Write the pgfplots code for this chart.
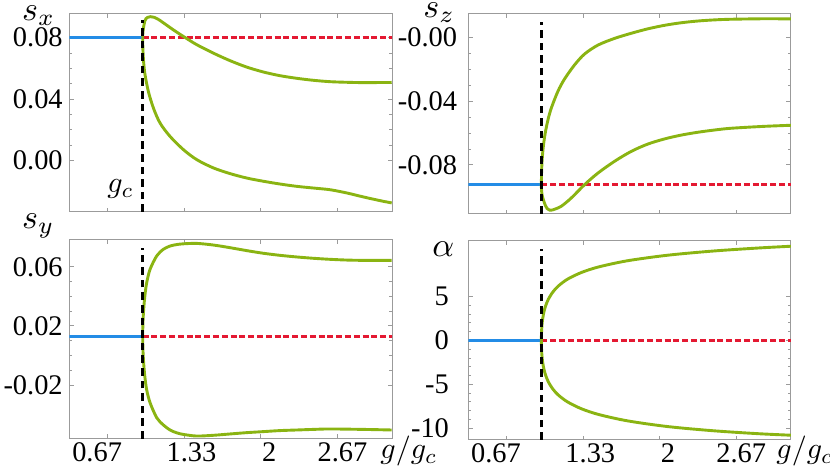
\documentclass[border=0pt]{standalone}
\usepackage{fontspec}
\setmainfont{Liberation Serif}
\usepackage{graphicx}
\usepackage{pgfplots}
\pgfplotsset{compat=1.18}
\definecolor{framegray}{RGB}{155,155,155}
\definecolor{cblue}{RGB}{35,140,230}
\definecolor{cred}{RGB}{228,25,50}
\definecolor{cgreen}{RGB}{138,180,18}
\newcommand{\ticksize}{\fontsize{14.2}{16}\selectfont}
\newcommand{\biglab}[1]{\scalebox{1.7}{$#1$}}
\newcommand{\glab}[1]{\scalebox{1.5}{$#1$}}
\pgfplotsset{
 panel/.style={
  scale only axis, width=161.25pt, height=99.35pt,
  xmin=0.3333, xmax=3.1426,
  axis line style={draw=framegray, line width=0.5pt},
  tick style={draw=framegray, line width=0.5pt},
  major tick length=2.2pt, minor tick length=1.3pt,
  xtick={0.6667,1.3333,2,2.6667}, minor x tick num=3,
  xticklabels={,,,},
  scaled y ticks=false, scaled x ticks=false,
  tick label style={font=\ticksize, inner sep=0pt},
  yticklabel style={anchor=east, xshift=-3.2pt},
  clip=true,
 },
 bottompanel/.style={
  extra x ticks={0.574,1.396,2.073,2.711},
  extra x tick labels={0.67,1.33,2,2.67},
  extra x tick style={major tick length=0pt, xticklabel style={anchor=north, yshift=-1.75pt}},
 },
 blueline/.style={cblue, line width=1.3pt},
 redline/.style={cred, line width=1.2pt, dash pattern=on 3pt off 1.4pt},
 greenline/.style={cgreen, line width=1.45pt, smooth, tension=0.5},
 gcline/.style={black, line width=1.5pt, dash pattern=on 3.8pt off 2.5pt},
}
\begin{document}
\begin{tikzpicture}
\useasboundingbox (0,0) rectangle (415pt,235pt);
% ---------- s_x ----------
\begin{axis}[panel, at={(34.75pt,129pt)}, anchor=south west,
  ymin=-0.0334, ymax=0.0959, ytick={0,0.04,0.08}, yticklabels={0.00,0.04,0.08}, minor y tick num=3]
\addplot[blueline] coordinates {(0.3333,0.0802) (0.97,0.0802)};
\addplot[redline] coordinates {(0.97,0.0802) (3.15,0.0802)};
\addplot[greenline] coordinates {(0.971,0.0802) (0.972,0.0827) (0.974,0.0844) (0.978,0.0865) (0.983,0.0887) (0.99,0.0910) (1.00,0.0925) (1.015,0.0933) (1.04,0.0937) (1.07,0.0933) (1.11,0.0918) (1.151,0.0897) (1.25,0.0845) (1.339,0.0802) (1.441,0.0755) (1.586,0.0700) (1.731,0.0651) (1.877,0.0609) (2.022,0.0577) (2.167,0.0553) (2.312,0.0536) (2.457,0.0523) (2.602,0.0514) (2.748,0.0510) (2.893,0.0508) (3.14,0.0509)};
\addplot[greenline] coordinates {(0.971,0.0802) (0.9715,0.0760) (0.973,0.0720) (0.9765,0.0668) (0.981,0.0625) (0.991,0.0560) (1.020,0.0451) (1.064,0.0343) (1.122,0.0245) (1.209,0.0158) (1.325,0.0072) (1.441,0.0007) (1.586,-0.0047) (1.731,-0.0084) (1.877,-0.0113) (2.022,-0.0134) (2.167,-0.0152) (2.312,-0.0167) (2.457,-0.0178) (2.602,-0.0189) (2.748,-0.0210) (2.893,-0.0236) (3.038,-0.0260) (3.14,-0.0275)};
\addplot[gcline] coordinates {(0.97,-0.0334) (0.97,0.0915)};
\end{axis}
% ---------- s_z ----------
\begin{axis}[panel, at={(234.15pt,128pt)}, anchor=south west, height=100pt,
  yticklabel style={xshift=-2.2pt},
  ymin=-0.1108, ymax=0.0149, ytick={-0.08,-0.04,0}, yticklabels={-0.08,-0.04,-0.00}, minor y tick num=3]
\addplot[blueline] coordinates {(0.3333,-0.0923) (0.97,-0.0923)};
\addplot[redline] coordinates {(0.97,-0.0923) (3.15,-0.0923)};
\addplot[greenline] coordinates {(0.970,-0.0923) (0.971,-0.0860) (0.974,-0.0800) (0.980,-0.0734) (0.990,-0.0664) (1.005,-0.0593) (1.028,-0.0514) (1.057,-0.0441) (1.115,-0.0335) (1.173,-0.0258) (1.260,-0.0170) (1.347,-0.0102) (1.464,-0.0046) (1.609,-0.0004) (1.754,0.0028) (1.899,0.0056) (2.044,0.0078) (2.189,0.0094) (2.335,0.0105) (2.480,0.0112) (2.625,0.0116) (2.915,0.0119) (3.16,0.0118)};
\addplot[greenline] coordinates {(0.970,-0.0923) (0.9705,-0.0945) (0.972,-0.0965) (0.976,-0.0988) (0.987,-0.1018) (1.005,-0.1055) (1.020,-0.1074) (1.042,-0.1084) (1.065,-0.1083) (1.086,-0.1078) (1.144,-0.1059) (1.231,-0.1007) (1.347,-0.0923) (1.464,-0.0850) (1.609,-0.0776) (1.754,-0.0714) (1.899,-0.0668) (2.044,-0.0636) (2.189,-0.0612) (2.335,-0.0594) (2.480,-0.0580) (2.625,-0.0569) (2.915,-0.0557) (3.16,-0.0550)};
\addplot[gcline] coordinates {(0.97,-0.1108) (0.97,0.0100)};
\end{axis}
% ---------- s_y ----------
\begin{axis}[panel, bottompanel, at={(34.75pt,15.65pt)}, anchor=south west,
  ymin=-0.0564, ymax=0.0783, ytick={-0.02,0.02,0.06}, yticklabels={-0.02,0.02,0.06}, minor y tick num=3]
\addplot[blueline] coordinates {(0.3333,0.013) (0.97,0.013)};
\addplot[redline] coordinates {(0.97,0.013) (3.15,0.013)};
\addplot[greenline] coordinates {(0.971,0.013) (0.972,0.0193) (0.9735,0.0230) (0.9765,0.0278) (0.982,0.0339) (0.991,0.0413) (1.006,0.0494) (1.035,0.0584) (1.093,0.0675) (1.151,0.0720) (1.209,0.0742) (1.267,0.0752) (1.325,0.0757) (1.441,0.0760) (1.586,0.0749) (1.731,0.0731) (1.877,0.0711) (2.022,0.0693) (2.167,0.0679) (2.312,0.0668) (2.457,0.0659) (2.602,0.0652) (2.748,0.0647) (2.893,0.0645) (3.14,0.0645)};
\addplot[greenline] coordinates {(0.971,0.013) (0.972,0.0067) (0.9735,0.0030) (0.9765,-0.0018) (0.982,-0.0079) (0.991,-0.0153) (1.006,-0.0234) (1.035,-0.0320) (1.093,-0.0422) (1.151,-0.0471) (1.209,-0.0505) (1.267,-0.0524) (1.325,-0.0535) (1.441,-0.0546) (1.586,-0.0541) (1.731,-0.0532) (1.877,-0.0523) (2.022,-0.0516) (2.167,-0.0509) (2.312,-0.0505) (2.457,-0.0501) (2.602,-0.0498) (2.893,-0.0501) (3.14,-0.0505)};
\addplot[gcline] coordinates {(0.97,-0.0564) (0.97,0.0729)};
\end{axis}
% ---------- alpha ----------
\begin{axis}[panel, bottompanel, at={(234.15pt,15pt)}, anchor=south west, height=99.5pt,
  yticklabel style={xshift=-6.3pt},
  ymin=-11.33, ymax=11.34, ytick={-10,-5,0,5}, yticklabels={-10,-5,0,5}, minor y tick num=4]
\addplot[blueline] coordinates {(0.3333,0) (0.97,0)};
\addplot[redline] coordinates {(0.97,0) (3.15,0)};
\addplot[greenline] coordinates {(0.970,0) (0.9705,0.61) (0.972,1.16) (0.975,1.76) (0.980,2.37) (0.990,3.14) (1.005,3.88) (1.030,4.69) (1.070,5.53) (1.120,6.24) (1.200,7.01) (1.320,7.76) (1.470,8.39) (1.720,9.09) (2.070,9.72) (2.470,10.20) (2.870,10.55) (3.170,10.76)};
\addplot[greenline] coordinates {(0.970,0) (0.9705,-0.61) (0.972,-1.16) (0.975,-1.76) (0.980,-2.37) (0.990,-3.14) (1.005,-3.88) (1.030,-4.69) (1.070,-5.53) (1.120,-6.24) (1.200,-7.01) (1.320,-7.78) (1.470,-8.43) (1.720,-9.15) (2.070,-9.80) (2.470,-10.28) (2.870,-10.62) (3.170,-10.80)};
\addplot[gcline] coordinates {(0.97,-11.33) (0.97,10.48)};
\end{axis}
% ---------- labels ----------
\node[anchor=base west, inner sep=0pt] at (10.85pt,224.6pt) {\biglab{s_x}};
\node[anchor=base west, inner sep=0pt] at (211.5pt,226.4pt) {\biglab{s_z}};
\node[anchor=base west, inner sep=0pt] at (10.85pt,120.85pt) {\biglab{s_y}};
\node[anchor=base west, inner sep=0pt] at (216pt,106.5pt) {\biglab{\alpha}};
\node[anchor=base west, inner sep=0pt] at (53.5pt,138.5pt) {\glab{g_c}};
\node[anchor=base west, inner sep=0pt] at (190pt,5.5pt) {\glab{g/g_c}};
\node[anchor=base west, inner sep=0pt] at (388pt,5.5pt) {\glab{g/g_c}};
\end{tikzpicture}
\end{document}
